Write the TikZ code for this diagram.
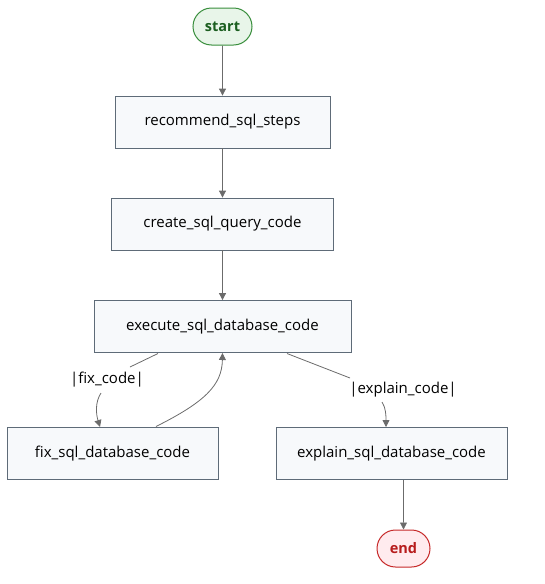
\documentclass[tikz,border=0pt]{standalone}
\usepackage{fontspec}
\setmainfont{Open Sans}
\usetikzlibrary{arrows.meta,shapes.misc}
\definecolor{boxfill}{HTML}{F7F9FB}
\definecolor{boxdraw}{HTML}{5E6B78}
\definecolor{edge}{HTML}{6B6B6B}
\definecolor{sfill}{HTML}{E8F5E9}
\definecolor{sdraw}{HTML}{388E3C}
\definecolor{stext}{HTML}{1B5E20}
\definecolor{efill}{HTML}{FFEBEE}
\definecolor{edraw}{HTML}{C62828}
\definecolor{etext}{HTML}{B71C1C}
\tikzset{
  proc/.style={draw=boxdraw, fill=boxfill, line width=0.8pt, minimum height=52pt, inner sep=0pt, font=\fontsize{15}{17}\selectfont},
  term/.style={rounded rectangle, line width=1pt, minimum width=59pt, minimum height=37pt, inner sep=0pt, font=\bfseries\fontsize{14.5}{17}\selectfont},
  conn/.style={draw=edge, line width=0.8pt},
  arr/.style={conn, -{Triangle[length=7pt,width=7pt]}},
  lbl/.style={font=\fontsize{15}{17}\selectfont, inner sep=1pt}
}
\begin{document}
\begin{tikzpicture}[x=1pt,y=-1pt]
\useasboundingbox (0,0) rectangle (545,584);
\node[term, draw=sdraw, fill=sfill, text=stext] (start) at (222.5,26.5) {start};
\node[proc, minimum width=215pt] (rec) at (222.5,122) {recommend\_sql\_steps};
\node[proc, minimum width=222pt] (create) at (222.5,224) {create\_sql\_query\_code};
\node[proc, minimum width=257pt] (exec) at (222.5,326.5) {execute\_sql\_database\_code};
\node[proc, minimum width=211pt] (fix) at (112.5,453.5) {fix\_sql\_database\_code};
\node[proc, minimum width=231pt] (expl) at (391.5,453.5) {explain\_sql\_database\_code};
\node[term, minimum width=53pt, draw=edraw, fill=efill, text=etext] (end) at (403.5,548.5) {end};
\node[lbl] (lfix) at (107,380) {|fix\_code|};
\node[lbl] (lexp) at (403,390) {|explain\_code|};
\coordinate (fixin) at (100,427);
\coordinate (exin) at (386,427);
\coordinate (explout) at (403.5,480);
\draw[arr] (start) -- (rec);
\draw[arr] (rec) -- (create);
\draw[arr] (create) -- (exec);
\draw[conn] (158,353.5) -- (130,367);
\draw[arr] (101,393) .. controls (95,402) and (96,414) .. (fixin);
\draw[arr] (156,426.5) .. controls (205,402) and (222,385) .. (222.5,353);
\draw[conn] (287,353.5) -- (350,378);
\draw[arr] (382,402) .. controls (386,408) and (386,416) .. (exin);
\draw[arr] (explout) -- (end);
\end{tikzpicture}
\end{document}
